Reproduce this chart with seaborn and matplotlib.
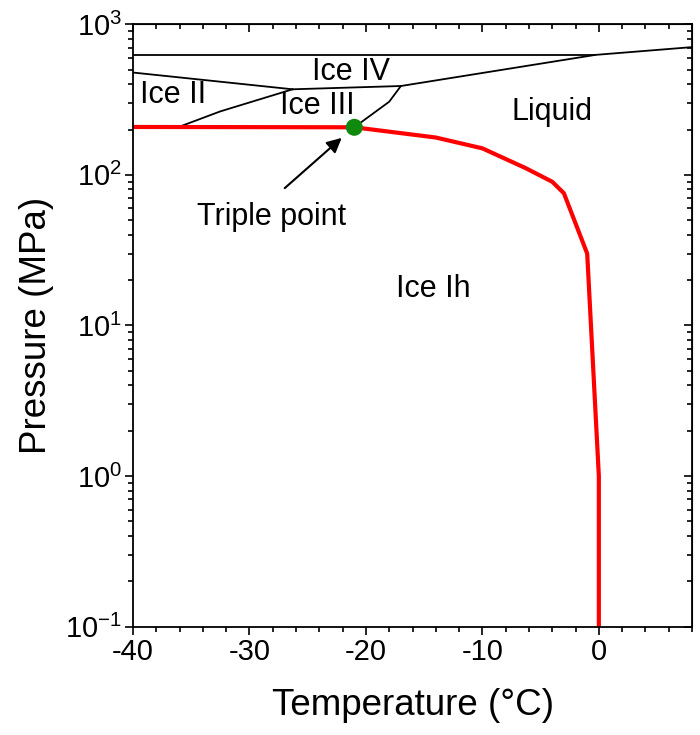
import matplotlib
matplotlib.use('Agg')
import matplotlib.pyplot as plt
from matplotlib.ticker import MultipleLocator, LogLocator
import numpy as np
import pandas as pd
import seaborn as sns

# melting curve of ice Ih (red)
melt_T = [-40, -21, -14, -10, -6.3, -4, -3, -1, 0, 0]
melt_P = [208, 207, 177, 150, 111, 90, 75.5, 30, 1.0, 0.1]

# other phase boundaries (black), one entry per segment
seg_names = ['top', 'VI_L', 'II_top', 'III_top', 'II_III', 'III_L']
seg_T = [[-40, -0.3], [-17, -0.3, 8], [-40, -26.3], [-26.3, -17],
         [-36, -32.5, -26.3], [-21, -18, -17]]
seg_P = [[626, 626], [389, 626, 705], [478, 370], [370, 389],
         [209, 264, 370], [207, 306, 389]]

triple_T = [-21]
triple_P = [207]

region_labels = ['Ice IV', 'Ice II', 'Ice III', 'Liquid', 'Ice Ih']
region_T = [-21.3, -36.6, -24.2, -4.0, -14.2]
region_P = [482, 340, 287, 262, 17.5]

sns.set_style('ticks')
plt.rcParams['font.family'] = ['Liberation Sans', 'DejaVu Sans']
plt.rcParams['mathtext.fontset'] = 'custom'
plt.rcParams['mathtext.rm'] = 'Liberation Sans'
plt.rcParams['mathtext.default'] = 'regular'
plt.rcParams['axes.unicode_minus'] = False
for key in ['text.color', 'axes.labelcolor', 'xtick.color', 'ytick.color', 'axes.edgecolor']:
    plt.rcParams[key] = 'black'

rows = []
for name, ts, ps in zip(seg_names, seg_T, seg_P):
    for t, p in zip(ts, ps):
        rows.append({'seg': name, 'T': t, 'P': p})
bounds = pd.DataFrame(rows)
melt = pd.DataFrame({'T': melt_T, 'P': melt_P})

fig = plt.figure(figsize=(7, 7.35), dpi=100)
ax = fig.add_axes([0.19, 0.1473, 0.7986, 0.8197])

sns.lineplot(data=bounds, x='T', y='P', units='seg', estimator=None, sort=False,
             color='black', lw=1.3, ax=ax)
sns.lineplot(data=melt, x='T', y='P', estimator=None, sort=False,
             color='#ff0000', lw=3.0, ax=ax)
sns.scatterplot(x=triple_T, y=triple_P, color='#0f8a0f', s=150, edgecolor='none',
                zorder=5, ax=ax)

ax.set_yscale('log')
ax.set_xlim(-40, 8)
ax.set_ylim(0.1, 1000)

for lab, t, p in zip(region_labels, region_T, region_P):
    ax.text(t, p, lab, ha='center', va='center', fontsize=22, color='black')

ax.annotate('', xy=(-21.9, 181), xytext=(-27.15, 79.4),
            arrowprops=dict(arrowstyle='-|>', color='black', lw=1.5, mutation_scale=22))
ax.text(-28.1, 52.5, 'Triple point', ha='center', va='center', fontsize=22, color='black')

ax.set_xlabel('Temperature (°C)', fontsize=26.5, labelpad=16)
ax.set_ylabel('Pressure (MPa)', fontsize=26.5, labelpad=8)

ax.xaxis.set_major_locator(MultipleLocator(10))
ax.xaxis.set_minor_locator(MultipleLocator(2))
ax.yaxis.set_major_locator(LogLocator(base=10, numticks=10))
ax.yaxis.set_minor_locator(LogLocator(base=10, subs=np.arange(2, 10), numticks=20))
ax.tick_params(which='both', direction='out', width=1.2, labelsize=21, pad=2)
ax.tick_params(which='major', length=6)
ax.tick_params(which='minor', length=3.5)
for sp in ax.spines.values():
    sp.set_visible(True)
    sp.set_linewidth(1.3)
    sp.set_color('black')

# top and right ticks point inwards
top = ax.secondary_xaxis('top')
top.xaxis.set_major_locator(MultipleLocator(10))
top.xaxis.set_minor_locator(MultipleLocator(2))
top.tick_params(which='both', direction='in', width=1.2, labeltop=False)
top.tick_params(which='major', length=6)
top.tick_params(which='minor', length=3.5)
right = ax.secondary_yaxis('right')
right.yaxis.set_major_locator(LogLocator(base=10, numticks=10))
right.yaxis.set_minor_locator(LogLocator(base=10, subs=np.arange(2, 10), numticks=20))
right.tick_params(which='both', direction='in', width=1.2, labelright=False)
right.tick_params(which='major', length=6)
right.tick_params(which='minor', length=3.5)

fig.savefig('out.png', dpi=100)
